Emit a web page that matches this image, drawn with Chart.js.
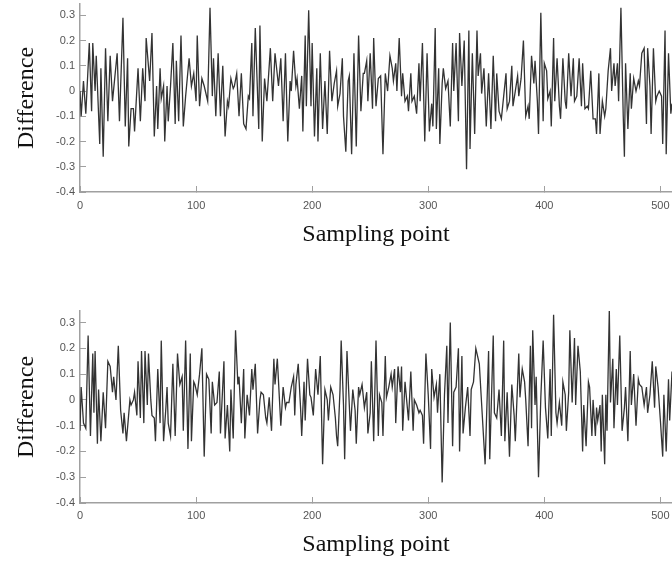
<!DOCTYPE html>
<html>
<head>
<meta charset="utf-8">
<script src="https://cdn.jsdelivr.net/npm/chart.js@4/dist/chart.umd.min.js"></script>
<style>
    html, body { margin: 0; padding: 0; background: #fff; }
    canvas { display: block; }
</style>
</head>
<body>
<canvas id="top-chart" width="672" height="281"></canvas>
<canvas id="bottom-chart" width="672" height="281"></canvas>
<script>
const xTicks = [0, 100, 200, 300, 400, 500];
const yTicks = [-0.4, -0.3, -0.2, -0.1, 0, 0.1, 0.2, 0.3];

// upper panel, turning points
const topX = [0, 1, 3, 5, 8, 10, 11, 13, 14, 17, 18, 20, 22, 24, 26, 28, 32, 34, 37, 39,
    41, 42, 44, 46, 47, 50, 52, 54, 56, 57, 60, 62, 64, 66, 67, 69, 70, 72, 73, 75,
    76, 78, 80, 82, 83, 85, 87, 89, 91, 94, 96, 98, 100, 101, 103, 105, 107, 110, 112, 114,
    115, 117, 119, 121, 123, 125, 127, 128, 130, 132, 133, 135, 137, 139, 141, 143, 145, 146, 148, 149,
    151, 154, 155, 157, 159, 161, 164, 166, 168, 171, 173, 175, 177, 179, 181, 182, 184, 186, 187, 189,
    191, 192, 194, 195, 197, 199, 200, 202, 204, 205, 207, 209, 211, 213, 215, 217, 219, 221, 222, 224,
    226, 227, 229, 231, 232, 234, 236, 238, 240, 242, 244, 245, 247, 248, 250, 252, 253, 255, 257, 259,
    261, 263, 265, 267, 269, 270, 272, 273, 275, 277, 278, 280, 282, 283, 285, 286, 288, 290, 292, 293,
    295, 297, 299, 301, 303, 304, 306, 307, 309, 310, 312, 313, 315, 317, 319, 321, 322, 324, 326, 327,
    329, 331, 333, 335, 336, 338, 340, 342, 343, 345, 346, 348, 350, 352, 354, 356, 358, 359, 361, 363,
    365, 367, 368, 370, 372, 373, 375, 377, 378, 380, 382, 384, 386, 387, 389, 391, 392, 394, 395, 397,
    399, 400, 402, 403, 405, 406, 408, 409, 411, 413, 414, 416, 418, 419, 421, 423, 425, 426, 428, 430,
    432, 433, 435, 437, 438, 440, 442, 444, 445, 447, 448, 450, 452, 453, 455, 457, 458, 460, 461, 463,
    464, 466, 468, 469, 470, 472, 474, 475, 477, 479, 481, 482, 484, 486, 488, 489, 491, 492, 494, 496,
    497, 499, 501, 502, 504, 505, 507, 509, 510, 512];
const topY = [0.00, -0.10, 0.04, -0.09, 0.19, -0.08, 0.19, 0.00, 0.14, -0.21, 0.09, -0.26, 0.17, -0.12, 0.14, -0.04, 0.15, -0.12, 0.29, -0.14,
    0.13, -0.22, -0.07, -0.07, -0.16, 0.09, -0.12, 0.09, -0.04, 0.21, 0.04, 0.23, -0.18, 0.02, -0.15, 0.09, -0.03, 0.02, -0.20, 0.02,
    -0.12, 0.02, 0.19, -0.13, 0.12, -0.12, 0.22, -0.14, -0.02, 0.13, 0.02, 0.07, -0.04, 0.22, -0.06, 0.05, 0.02, -0.04, 0.33, -0.02,
    0.13, -0.10, 0.15, -0.10, 0.10, -0.18, -0.04, -0.06, 0.05, 0.01, 0.02, 0.07, -0.10, 0.07, -0.13, -0.15, -0.02, -0.03, 0.19, -0.10,
    0.25, -0.15, 0.26, -0.20, 0.05, -0.04, 0.17, -0.04, 0.15, 0.02, 0.13, -0.12, 0.15, -0.20, 0.04, 0.00, 0.16, 0.02, 0.05, -0.07,
    0.06, -0.16, 0.22, -0.06, 0.32, -0.06, 0.19, -0.18, 0.09, -0.20, 0.15, -0.15, 0.04, -0.17, 0.16, -0.04, 0.03, 0.08, -0.06, -0.01,
    0.13, -0.10, -0.24, 0.04, 0.06, -0.25, 0.15, -0.22, 0.22, -0.08, 0.07, 0.07, 0.12, -0.04, 0.15, -0.07, 0.21, -0.06, 0.05, 0.06,
    -0.25, 0.07, 0.00, 0.14, 0.09, 0.04, 0.11, 0.00, 0.21, -0.02, 0.07, -0.04, -0.02, -0.08, 0.07, -0.04, -0.02, -0.09, 0.11, -0.04,
    0.19, -0.20, 0.15, -0.16, -0.05, -0.14, 0.25, -0.15, 0.09, -0.21, 0.03, 0.09, 0.01, 0.04, -0.14, 0.19, 0.00, 0.19, -0.12, 0.23,
    0.02, 0.20, -0.31, 0.24, -0.23, 0.15, -0.17, 0.24, 0.06, 0.15, -0.01, 0.09, -0.14, 0.07, -0.15, 0.14, -0.12, 0.07, -0.08, -0.11,
    -0.02, 0.07, -0.07, -0.04, 0.10, -0.06, 0.00, 0.06, -0.02, 0.05, 0.20, -0.10, -0.06, -0.11, 0.14, 0.03, 0.12, -0.04, -0.17, 0.31,
    -0.12, 0.11, 0.08, -0.03, 0.00, -0.14, 0.21, -0.04, 0.13, -0.06, -0.11, 0.13, -0.04, -0.07, 0.15, -0.02, 0.13, -0.04, -0.02, 0.13,
    -0.06, 0.11, -0.07, -0.06, -0.07, 0.08, -0.11, -0.11, -0.17, 0.07, -0.17, -0.04, -0.10, -0.07, 0.08, 0.17, 0.00, 0.11, 0.02, 0.11,
    -0.04, 0.33, -0.10, -0.26, 0.11, -0.15, 0.07, -0.07, 0.05, 0.00, 0.04, 0.02, 0.15, 0.17, -0.13, 0.17, 0.02, -0.17, 0.17, -0.04,
    -0.02, 0.00, -0.02, -0.21, 0.24, -0.25, 0.15, -0.09, -0.05, 0.05];

// lower panel
const bottomX = [0, 1, 3, 5, 7, 9, 11, 12, 13, 15, 16, 18, 20, 22, 24, 26, 28, 29, 31, 33,
    35, 37, 38, 40, 43, 44, 46, 47, 49, 50, 52, 53, 55, 56, 58, 59, 61, 62, 64, 65,
    67, 69, 70, 72, 74, 75, 76, 78, 80, 82, 84, 86, 88, 89, 91, 93, 95, 96, 98, 99,
    101, 103, 105, 107, 109, 111, 113, 114, 116, 118, 120, 121, 124, 125, 127, 129, 130, 132, 134, 136,
    137, 139, 141, 142, 144, 146, 148, 149, 151, 153, 155, 156, 158, 160, 161, 163, 165, 167, 168, 170,
    173, 175, 177, 178, 180, 182, 184, 185, 186, 188, 190, 191, 193, 194, 196, 198, 199, 201, 203, 205,
    207, 209, 211, 213, 214, 216, 218, 220, 221, 222, 224, 225, 227, 228, 230, 232, 233, 235, 237, 238,
    240, 241, 243, 245, 247, 248, 250, 251, 253, 255, 257, 258, 260, 261, 263, 264, 266, 268, 269, 271,
    272, 274, 276, 277, 278, 280, 282, 283, 285, 287, 288, 290, 292, 293, 295, 296, 298, 300, 302, 303,
    305, 307, 308, 310, 312, 314, 316, 317, 319, 321, 322, 324, 326, 327, 329, 330, 332, 334, 336, 337,
    339, 341, 344, 349, 352, 353, 356, 357, 359, 361, 363, 365, 366, 368, 370, 372, 374, 375, 378, 379,
    381, 383, 384, 386, 388, 389, 390, 392, 393, 395, 397, 399, 401, 403, 405, 406, 408, 410, 411, 413,
    415, 416, 418, 419, 421, 422, 424, 426, 427, 429, 431, 433, 434, 436, 438, 439, 441, 442, 444, 445,
    446, 448, 449, 450, 452, 453, 454, 456, 457, 459, 460, 462, 463, 465, 467, 469, 470, 472, 474, 475,
    477, 479, 481, 482, 484, 486, 488, 489, 491, 493, 495, 496, 498, 500, 502, 503, 505, 507, 508, 510,
    512];
const bottomY = [-0.12, 0.05, -0.09, -0.11, 0.25, -0.14, 0.18, -0.05, 0.19, -0.17, 0.04, -0.16, 0.03, -0.11, 0.15, 0.13, 0.03, 0.09, 0.00, 0.21,
    -0.04, -0.13, -0.05, -0.16, 0.00, -0.02, 0.00, 0.03, -0.06, 0.15, -0.07, 0.19, -0.09, 0.19, -0.02, 0.18, 0.00, -0.06, -0.07, -0.16,
    0.12, -0.09, 0.23, -0.16, -0.03, 0.05, -0.09, -0.14, 0.14, -0.14, 0.18, 0.06, 0.09, -0.12, 0.23, -0.19, 0.18, -0.16, 0.07, 0.06,
    0.02, 0.10, 0.20, -0.22, 0.10, 0.08, -0.13, 0.07, -0.02, -0.01, 0.11, -0.13, 0.15, -0.15, -0.02, -0.20, 0.04, -0.15, 0.27, 0.06,
    0.09, -0.09, 0.12, -0.15, 0.02, -0.06, 0.12, 0.04, 0.14, -0.13, 0.00, 0.03, 0.02, -0.07, -0.09, 0.01, -0.12, 0.16, 0.06, 0.16,
    -0.10, 0.05, -0.03, -0.01, -0.01, 0.05, 0.09, -0.06, 0.06, 0.14, -0.03, -0.14, 0.07, -0.08, 0.16, 0.02, 0.01, -0.06, 0.12, 0.02,
    0.17, -0.25, 0.04, 0.00, -0.08, 0.05, 0.02, -0.07, -0.14, -0.18, 0.04, 0.23, -0.02, -0.23, 0.19, -0.02, -0.12, 0.04, -0.04, -0.17,
    0.05, 0.02, 0.06, -0.03, 0.03, -0.13, -0.05, 0.15, -0.16, 0.23, -0.14, 0.02, -0.01, -0.14, 0.17, 0.01, 0.05, 0.10, 0.05, 0.12,
    -0.09, 0.13, 0.03, 0.13, -0.12, 0.07, -0.03, -0.08, 0.11, -0.12, 0.00, -0.02, -0.05, -0.04, -0.06, -0.17, 0.18, 0.02, -0.19, 0.12,
    0.01, 0.06, -0.05, 0.10, -0.32, 0.02, 0.21, -0.09, 0.30, -0.18, 0.03, 0.05, 0.20, -0.20, 0.17, -0.13, -0.03, 0.05, -0.14, 0.04,
    0.07, 0.20, 0.14, -0.25, 0.19, -0.23, 0.25, -0.05, -0.07, 0.04, -0.14, 0.23, -0.16, 0.03, -0.22, 0.06, -0.06, -0.16, 0.18, 0.01,
    0.12, 0.07, 0.00, -0.18, 0.21, -0.11, 0.27, -0.02, 0.09, -0.30, 0.01, 0.23, -0.03, -0.15, 0.12, -0.14, 0.33, -0.05, -0.09, -0.01,
    -0.10, 0.07, 0.02, -0.12, 0.03, 0.27, -0.01, 0.24, -0.02, 0.21, 0.11, -0.20, -0.02, -0.18, 0.07, 0.05, -0.14, 0.00, -0.14, -0.03,
    -0.08, -0.02, -0.20, 0.02, -0.25, 0.02, -0.12, 0.35, -0.01, 0.16, -0.11, 0.12, -0.02, 0.25, -0.12, -0.03, 0.05, -0.16, 0.19, -0.02,
    0.10, -0.10, 0.08, 0.06, 0.05, -0.02, 0.05, -0.05, 0.02, 0.15, -0.03, 0.13, 0.05, -0.08, -0.22, 0.02, -0.20, 0.08, -0.08, 0.11,
    -0.05];

const tickFont = { family: 'Liberation Sans', size: 11 };
const titleFont = { family: 'Liberation Serif', size: 24 };
const axisColor = '#a0a0a0';

function makeChart(canvas, xs, ys, layout) {
    return new Chart(canvas, {
        type: 'line',
        data: {
            datasets: [{
                data: xs.map((x, i) => ({ x: x, y: ys[i] })),
                borderColor: '#333',
                borderWidth: 1.3,
                pointRadius: 0,
                tension: 0,
            }],
        },
        options: {
            responsive: false,
            animation: false,
            devicePixelRatio: 1,
            layout: { padding: { top: layout.top, right: 0, bottom: 0, left: 0 } },
            plugins: { legend: { display: false }, tooltip: { enabled: false } },
            scales: {
                x: {
                    type: 'linear',
                    min: 0,
                    max: 510,
                    afterBuildTicks: scale => { scale.ticks = xTicks.map(v => ({ value: v })); },
                    afterFit: scale => {
                        scale.height = layout.xHeight;
                        scale.paddingLeft = 0;
                        scale.paddingRight = 0;
                    },
                    ticks: {
                        font: tickFont,
                        color: '#555',
                        padding: layout.xPad,
                        maxRotation: 0,
                        autoSkip: false,
                        callback: v => String(v),
                    },
                    grid: { drawOnChartArea: false, tickLength: -6, color: axisColor, lineWidth: 1 },
                    border: { color: axisColor, width: 1.5 },
                    title: {
                        display: true,
                        text: 'Sampling point',
                        font: titleFont,
                        color: '#111',
                        padding: { top: 0, bottom: layout.titlePad },
                    },
                },
                y: {
                    min: -0.4,
                    max: 0.345,
                    afterBuildTicks: scale => { scale.ticks = yTicks.map(v => ({ value: v })); },
                    afterFit: scale => {
                        scale.width = 80;
                        scale.paddingTop = 0;
                        scale.paddingBottom = 0;
                    },
                    ticks: {
                        font: tickFont,
                        color: '#555',
                        padding: 11,
                        callback: v => String(v),
                    },
                    grid: { drawOnChartArea: false, tickLength: -6, color: axisColor, lineWidth: 1 },
                    border: { color: axisColor, width: 1.5 },
                    title: {
                        display: true,
                        text: 'Difference',
                        font: titleFont,
                        color: '#111',
                        padding: { top: 12, bottom: 0 },
                    },
                },
            },
        },
    });
}

makeChart(document.querySelector('#top-chart'), topX, topY,
    { top: 4, xHeight: 89, xPad: 13, titlePad: 32 });
makeChart(document.querySelector('#bottom-chart'), bottomX, bottomY,
    { top: 30, xHeight: 59, xPad: 12, titlePad: 3 });
</script>
</body>
</html>
